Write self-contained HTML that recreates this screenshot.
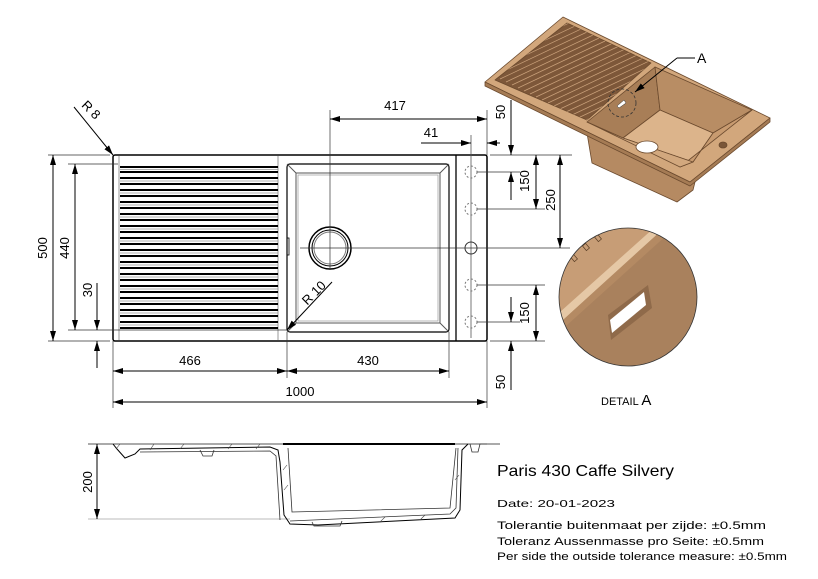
<!DOCTYPE html>
<html><head><meta charset="utf-8"><style>
html,body{margin:0;padding:0;background:#fff;}
svg{display:block;font-family:"Liberation Sans",Arial,sans-serif;}
</style></head><body>
<svg width="818" height="579" viewBox="0 0 818 579" xmlns="http://www.w3.org/2000/svg">
<defs>
<marker id="a" viewBox="0 0 10 6" refX="10" refY="3" markerWidth="10" markerHeight="6" orient="auto-start-reverse" markerUnits="userSpaceOnUse"><path d="M0,0L10,3L0,6z" fill="#000"/></marker>
<clipPath id="dc"><circle cx="628" cy="297" r="69"/></clipPath>
<clipPath id="dr"><path d="M495,80 L567,23 L651,63 L587,120 Z"/></clipPath>
</defs>
<g stroke="#000" fill="none" stroke-width="1">
<rect x="113" y="155" width="374" height="186" rx="2" stroke-width="1.5"/>
<line x1="119" y1="156" x2="119" y2="340" stroke="#999"/>
<line x1="278" y1="156" x2="278" y2="340" stroke="#999"/>
<line x1="456" y1="155" x2="456" y2="341" stroke-width="1.3"/>
<line x1="471" y1="135" x2="471" y2="338" stroke="#555" stroke-width="0.8"/>
<g stroke="#000" stroke-width="1.9">
<line x1="120" y1="167" x2="278" y2="167"/><line x1="120" y1="172" x2="278" y2="172"/><line x1="120" y1="178" x2="278" y2="178"/><line x1="120" y1="184" x2="278" y2="184"/><line x1="120" y1="190" x2="278" y2="190"/><line x1="120" y1="196" x2="278" y2="196"/><line x1="120" y1="202" x2="278" y2="202"/><line x1="120" y1="208" x2="278" y2="208"/><line x1="120" y1="214" x2="278" y2="214"/><line x1="120" y1="220" x2="278" y2="220"/><line x1="120" y1="226" x2="278" y2="226"/><line x1="120" y1="232" x2="278" y2="232"/><line x1="120" y1="238" x2="278" y2="238"/><line x1="120" y1="244" x2="278" y2="244"/><line x1="120" y1="250" x2="278" y2="250"/><line x1="120" y1="256" x2="278" y2="256"/><line x1="120" y1="262" x2="278" y2="262"/><line x1="120" y1="268" x2="278" y2="268"/><line x1="120" y1="274" x2="278" y2="274"/><line x1="120" y1="280" x2="278" y2="280"/><line x1="120" y1="286" x2="278" y2="286"/><line x1="120" y1="292" x2="278" y2="292"/><line x1="120" y1="298" x2="278" y2="298"/><line x1="120" y1="304" x2="278" y2="304"/><line x1="120" y1="310" x2="278" y2="310"/><line x1="120" y1="316" x2="278" y2="316"/><line x1="120" y1="322" x2="278" y2="322"/><line x1="120" y1="328" x2="278" y2="328"/>
</g>
<g stroke="#999" stroke-width="0.8">
<line x1="120" y1="169.5" x2="278" y2="169.5"/><line x1="120" y1="181" x2="278" y2="181"/><line x1="120" y1="193" x2="278" y2="193"/><line x1="120" y1="205" x2="278" y2="205"/><line x1="120" y1="217" x2="278" y2="217"/><line x1="120" y1="229" x2="278" y2="229"/><line x1="120" y1="241" x2="278" y2="241"/><line x1="120" y1="253" x2="278" y2="253"/><line x1="120" y1="265" x2="278" y2="265"/><line x1="120" y1="277" x2="278" y2="277"/><line x1="120" y1="289" x2="278" y2="289"/><line x1="120" y1="301" x2="278" y2="301"/><line x1="120" y1="313" x2="278" y2="313"/><line x1="120" y1="325" x2="278" y2="325"/>
</g>
<rect x="287" y="164" width="162" height="168" rx="3" stroke-width="1.2"/>
<rect x="296" y="173" width="144" height="150" stroke="#555"/>
<rect x="298" y="175" width="140" height="146" stroke="#999" stroke-width="0.7"/>
<line x1="287" y1="164" x2="296" y2="173" stroke="#555"/><line x1="449" y1="164" x2="440" y2="173" stroke="#555"/>
<line x1="287" y1="332" x2="296" y2="323" stroke="#555"/><line x1="449" y1="332" x2="440" y2="323" stroke="#555"/>
<rect x="287" y="238" width="2" height="17" stroke-width="0.8"/>
<circle cx="330" cy="248" r="21" stroke-width="1.5"/>
<circle cx="330" cy="248" r="18"/>
<circle cx="330" cy="248" r="16" stroke="#777"/>
<g stroke="#777" stroke-dasharray="2,2"><circle cx="471" cy="172" r="6"/><circle cx="471" cy="209" r="6"/><circle cx="471" cy="285" r="6"/><circle cx="471" cy="322" r="6"/></g>
<circle cx="471" cy="248" r="6" stroke="#333"/>
<g stroke="#333" stroke-width="0.7">
<line x1="330" y1="110" x2="330" y2="270"/>
<line x1="300" y1="248" x2="570" y2="248"/>
<line x1="487" y1="110" x2="487" y2="155"/>
<line x1="487" y1="341" x2="487" y2="408"/>
<line x1="113" y1="341" x2="113" y2="408"/>
<line x1="287" y1="332" x2="287" y2="378"/>
<line x1="449" y1="332" x2="449" y2="378"/>
<line x1="490" y1="155" x2="572" y2="155"/>
<line x1="477" y1="209" x2="545" y2="209"/>
<line x1="477" y1="285" x2="545" y2="285"/>
<line x1="490" y1="341" x2="545" y2="341"/>
<line x1="48" y1="155" x2="110" y2="155"/>
<line x1="48" y1="341" x2="110" y2="341"/>
<line x1="68" y1="164" x2="118" y2="164"/>
<line x1="68" y1="330" x2="288" y2="330"/>
<line x1="477" y1="322" x2="520" y2="322"/>
<line x1="477" y1="172" x2="520" y2="172"/>
</g>
<line x1="330" y1="119" x2="487" y2="119" marker-start="url(#a)" marker-end="url(#a)"/>
<line x1="421" y1="143" x2="471" y2="143" marker-end="url(#a)"/>
<line x1="500" y1="143" x2="487" y2="143" marker-end="url(#a)"/>
<line x1="511" y1="100" x2="511" y2="155" marker-end="url(#a)"/>
<line x1="511" y1="200" x2="511" y2="172" marker-end="url(#a)"/>
<line x1="536" y1="155" x2="536" y2="209" marker-start="url(#a)" marker-end="url(#a)"/>
<line x1="560" y1="155" x2="560" y2="248" marker-start="url(#a)" marker-end="url(#a)"/>
<line x1="536" y1="285" x2="536" y2="341" marker-start="url(#a)" marker-end="url(#a)"/>
<line x1="511" y1="297" x2="511" y2="322" marker-end="url(#a)"/>
<line x1="511" y1="390" x2="511" y2="341" marker-end="url(#a)"/>
<line x1="53" y1="155" x2="53" y2="341" marker-start="url(#a)" marker-end="url(#a)"/>
<line x1="75" y1="164" x2="75" y2="330" marker-start="url(#a)" marker-end="url(#a)"/>
<line x1="97" y1="283" x2="97" y2="330" marker-end="url(#a)"/>
<line x1="97" y1="368" x2="97" y2="341" marker-end="url(#a)"/>
<line x1="113" y1="371" x2="287" y2="371" marker-start="url(#a)" marker-end="url(#a)"/>
<line x1="287" y1="371" x2="449" y2="371" marker-start="url(#a)" marker-end="url(#a)"/>
<line x1="113" y1="402" x2="487" y2="402" marker-start="url(#a)" marker-end="url(#a)"/>
<line x1="74" y1="107" x2="113" y2="155" marker-end="url(#a)"/>
<line x1="332" y1="282" x2="287" y2="330" marker-end="url(#a)"/>
<line x1="88" y1="444" x2="500" y2="444" stroke="#555"/>
<line x1="88" y1="519" x2="290" y2="519" stroke="#bbb"/>
<line x1="97" y1="444" x2="97" y2="519" marker-start="url(#a)" marker-end="url(#a)"/>
<path d="M113,444 L117,449 L125,458 L135,454 L140,449 L270,447 L278,450 L280,462 L284,515 L290,524 L318,525 L455,518 L460,510 L462,450 L468,444" stroke-width="1"/>
<path d="M140,452 L270,451 L276,456 L280,520 M290,521 L450,514 L456,508 L458,448" stroke="#333" stroke-width="0.8"/>
<path d="M283,444 L455,444" stroke-width="2"/>
<path d="M288,448 L292,512 L450,508 L456,448" stroke="#333" stroke-width="0.8"/>
<path d="M200,450 L203,456 L212,456 L214,450 M312,522 L314,526 L340,526 L342,521 M470,444 L472,452 L478,452 L480,444 L487,444" stroke="#333" stroke-width="0.8"/>
<g stroke="#444" stroke-width="0.6"><line x1="116" y1="449" x2="120" y2="444"/><line x1="150" y1="450" x2="154" y2="444"/><line x1="180" y1="449" x2="184" y2="444"/><line x1="228" y1="449" x2="232" y2="444"/><line x1="256" y1="449" x2="260" y2="444"/><line x1="283" y1="470" x2="287" y2="465"/><line x1="284" y1="490" x2="288" y2="485"/><line x1="455" y1="480" x2="459" y2="475"/><line x1="380" y1="522" x2="385" y2="517"/><line x1="420" y1="520" x2="425" y2="515"/></g>
</g>
<!-- 3D render -->
<g stroke="#6b4a2e" stroke-width="0.8" stroke-linejoin="round">
<path d="M587,122 L587,133 L592,163 L677,202 L693,190 L695,182 Z" fill="#b58a62"/>
<path d="M485,82 L563,17 L770,118 L690,182 Z" fill="#d2a77c"/>
<path d="M485,82 L485,86 L690,186 L770,122 L770,118 L690,182 Z" fill="#a57b54"/>
<path d="M495,80 L567,23 L651,63 L587,120 Z" fill="#7d5739"/>
<path d="M587,122 L655,67 L660,110 L623,138 Z" fill="#a87e57"/>
<path d="M655,67 L752,110 L713,133 L660,110 Z" fill="#b88d64"/>
<path d="M660,110 L713,133 L693,162 L623,138 Z" fill="#dcb48b"/>
<path d="M713,133 L752,110 L680,167 L693,162 Z" fill="#c89b70"/>
<path d="M623,138 L693,162 L680,167 L587,122 Z" fill="#d2a87e"/>
<ellipse cx="647" cy="147" rx="11" ry="6" fill="#fff" stroke="#6b4a2e"/>
<ellipse cx="723" cy="145" rx="4" ry="3" fill="#7a5638"/>
</g>
<g stroke="#c9a07a" stroke-width="0.7" clip-path="url(#dr)">
<line x1="470" y1="64" x2="580" y2="12"/><line x1="476" y1="67" x2="586" y2="15"/><line x1="482" y1="70" x2="592" y2="18"/><line x1="488" y1="73" x2="598" y2="21"/><line x1="494" y1="76" x2="604" y2="24"/><line x1="500" y1="79" x2="610" y2="27"/><line x1="506" y1="82" x2="616" y2="30"/><line x1="512" y1="85" x2="622" y2="33"/><line x1="518" y1="88" x2="628" y2="36"/><line x1="524" y1="91" x2="634" y2="39"/><line x1="530" y1="94" x2="640" y2="42"/><line x1="536" y1="97" x2="646" y2="45"/><line x1="542" y1="100" x2="652" y2="48"/><line x1="548" y1="103" x2="658" y2="51"/><line x1="554" y1="106" x2="664" y2="54"/><line x1="560" y1="109" x2="670" y2="57"/><line x1="566" y1="112" x2="676" y2="60"/><line x1="572" y1="115" x2="682" y2="63"/><line x1="578" y1="118" x2="688" y2="66"/><line x1="584" y1="121" x2="694" y2="69"/>
</g>
<circle cx="622" cy="103" r="14" fill="none" stroke="#333" stroke-dasharray="3,2" stroke-width="0.8"/>
<path d="M617,106 L624,100 L626,103 L619,108 Z" fill="#fff" stroke="#333" stroke-width="0.5"/>
<line x1="695" y1="58" x2="677" y2="58" stroke="#000"/>
<line x1="677" y1="58" x2="635" y2="92" stroke="#000" marker-end="url(#a)"/>
<g clip-path="url(#dc)">
<rect x="555" y="225" width="150" height="150" fill="#a9815d"/>
<path d="M555,225 L665,225 L560,318 L555,318 Z" fill="#c79d76"/>
<path d="M560,312 L655,227 L662,230 L563,320 Z" fill="#e5c8a6"/>
<path d="M563,320 L662,230 L668,234 L566,326 Z" fill="#b48a63"/>
<g fill="none" stroke="#5a3e25" stroke-width="0.7"><rect x="572" y="255" width="4" height="6" transform="rotate(-40 574 258)"/><rect x="584" y="244" width="4" height="6" transform="rotate(-40 586 247)"/><rect x="596" y="235" width="4" height="6" transform="rotate(-40 598 238)"/></g>
<path d="M608,315 L648,285 L652,308 L611,340 Z" fill="#8f6a4a"/>
<path d="M610,320 L644,292 L646,305 L612,333 Z" fill="#fff"/>
</g>
<circle cx="628" cy="297" r="69" fill="none" stroke="#333" stroke-width="0.8"/>
<g font-size="13" fill="#000">
<text x="395" y="110" text-anchor="middle">417</text>
<text x="431" y="137" text-anchor="middle">41</text>
<text x="190" y="365" text-anchor="middle">466</text>
<text x="368" y="365" text-anchor="middle">430</text>
<text x="300" y="396" text-anchor="middle">1000</text>
<text transform="translate(505,112) rotate(-90)" text-anchor="middle">50</text>
<text transform="translate(529,181) rotate(-90)" text-anchor="middle">150</text>
<text transform="translate(555,200) rotate(-90)" text-anchor="middle">250</text>
<text transform="translate(529,313) rotate(-90)" text-anchor="middle">150</text>
<text transform="translate(505,382) rotate(-90)" text-anchor="middle">50</text>
<text transform="translate(47,248) rotate(-90)" text-anchor="middle">500</text>
<text transform="translate(69,248) rotate(-90)" text-anchor="middle">440</text>
<text transform="translate(92,290) rotate(-90)" text-anchor="middle">30</text>
<text transform="translate(92,482) rotate(-90)" text-anchor="middle">200</text>
<text transform="translate(88,113) rotate(45)" text-anchor="middle">R 8</text>
<text transform="translate(317,296) rotate(-45)" text-anchor="middle">R 10</text>
<text x="697" y="63" font-size="14">A</text>
<text x="601" y="405" font-size="11">DETAIL <tspan font-size="15">A</tspan></text>
<text x="497" y="476" font-size="16" textLength="177" lengthAdjust="spacingAndGlyphs">Paris 430 Caffe Silvery</text>
<text x="497" y="507" font-size="10.5" textLength="118" lengthAdjust="spacingAndGlyphs">Date: 20-01-2023</text>
<text x="497" y="529" font-size="11" textLength="269" lengthAdjust="spacingAndGlyphs">Tolerantie buitenmaat per zijde: ±0.5mm</text>
<text x="497" y="545" font-size="11" textLength="267" lengthAdjust="spacingAndGlyphs">Toleranz Aussenmasse pro Seite: ±0.5mm</text>
<text x="497" y="560" font-size="11" textLength="290" lengthAdjust="spacingAndGlyphs">Per side the outside tolerance measure: ±0.5mm</text>
</g>
</svg>
</body></html>
